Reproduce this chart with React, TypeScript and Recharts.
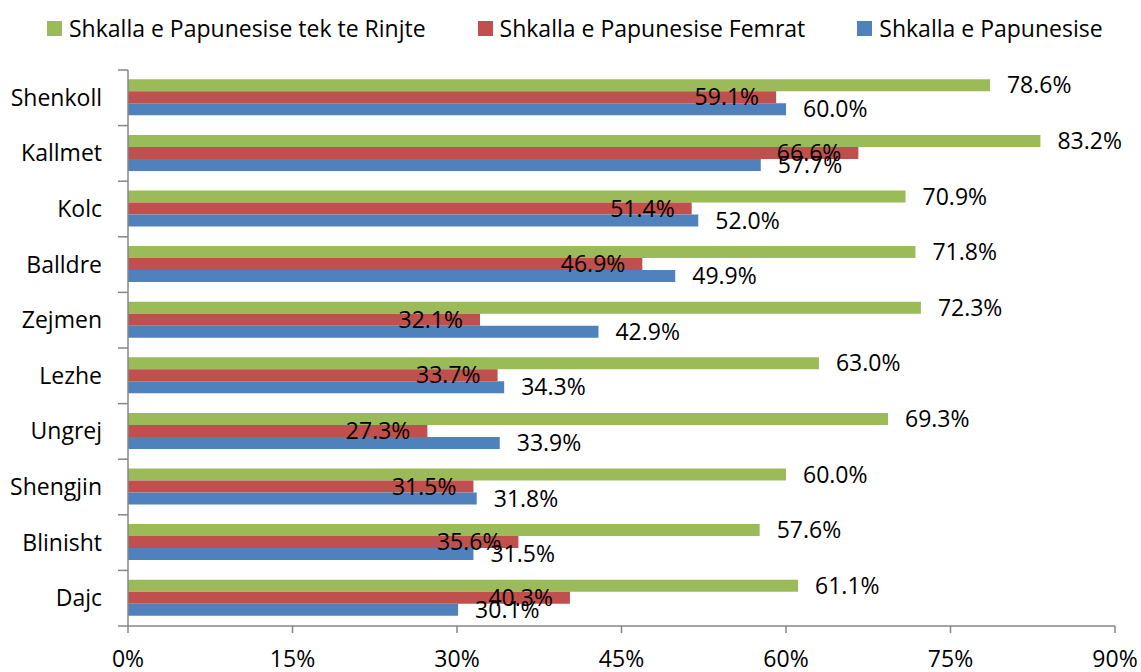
import React from "react";
import { BarChart, Bar, XAxis, YAxis, LabelList } from "recharts";

const CATEGORIES = [
  "Shenkoll",
  "Kallmet",
  "Kolc",
  "Balldre",
  "Zejmen",
  "Lezhe",
  "Ungrej",
  "Shengjin",
  "Blinisht",
  "Dajc",
];

const RINJTE = [78.6, 83.2, 70.9, 71.8, 72.3, 63.0, 69.3, 60.0, 57.6, 61.1];
const FEMRAT = [59.1, 66.6, 51.4, 46.9, 32.1, 33.7, 27.3, 31.5, 35.6, 40.3];
const TOTAL = [60.0, 57.7, 52.0, 49.9, 42.9, 34.3, 33.9, 31.8, 31.5, 30.1];

const X_TICKS = [0, 15, 30, 45, 60, 75, 90];

const SERIES = [
  { key: "rinjte", name: "Shkalla e Papunesise tek te Rinjte", color: "#9BBB59", labelPos: "right" },
  { key: "femrat", name: "Shkalla e Papunesise Femrat", color: "#C0504D", labelPos: "insideRight" },
  { key: "total", name: "Shkalla e Papunesise", color: "#4F81BD", labelPos: "right" },
];

const chartData = CATEGORIES.map((name, i) => ({
  name,
  rinjte: RINJTE[i],
  femrat: FEMRAT[i],
  total: TOTAL[i],
}));

const FONT = "'Open Sans', sans-serif";
const FONT_SIZE = 23;
const AXIS_COLOR = "#868686";
const Y_TICK_SIZE = 10;
const Y_TICK_MARGIN = 16;

const fmt = (v: any) => `${Number(v).toFixed(1)}%`;

// category ticks: Excel draws the tick marks between categories
function CategoryTick(props: any) {
  const { x, y, payload, index } = props;
  const half = payload?.offset ? payload.offset : 27.8;
  const axisX = x + Y_TICK_MARGIN + Y_TICK_SIZE;
  const isLast = index === CATEGORIES.length - 1;
  return (
    <g>
      <line x1={axisX - Y_TICK_SIZE} x2={axisX} y1={y - half} y2={y - half} stroke={AXIS_COLOR} strokeWidth={1.5} />
      {isLast && (
        <line x1={axisX - Y_TICK_SIZE} x2={axisX} y1={y + half} y2={y + half} stroke={AXIS_COLOR} strokeWidth={1.5} />
      )}
      <text x={x} y={y} dy="0.35em" textAnchor="end" fill="#000" fontSize={FONT_SIZE} fontFamily={FONT}>
        {payload.value}
      </text>
    </g>
  );
}

export default function App() {
  return (
    <div style={{ position: "absolute", left: 0, top: 0, width: 1141, height: 672, background: "#fff", fontFamily: FONT }}>
      <div
        style={{
          position: "absolute",
          left: 47,
          top: 13,
          display: "flex",
          alignItems: "center",
          fontSize: FONT_SIZE,
          lineHeight: "30px",
          whiteSpace: "nowrap",
        }}
      >
        {SERIES.map((s, i) => (
          <div key={s.key} style={{ display: "flex", alignItems: "center", marginLeft: i === 0 ? 0 : 52 }}>
            <span style={{ width: 15, height: 15, background: s.color, marginRight: 7, display: "inline-block" }} />
            <span>{s.name}</span>
          </div>
        ))}
      </div>
      <BarChart
        width={1141}
        height={672}
        data={chartData}
        layout="vertical"
        margin={{ top: 70, right: 26, bottom: 0, left: 0 }}
        barCategoryGap={9.3}
        barGap={0}
      >
        <XAxis
          type="number"
          domain={[0, 90]}
          ticks={X_TICKS}
          tickFormatter={(v: number) => `${v}%`}
          height={46}
          tickSize={7}
          tickMargin={18}
          axisLine={{ stroke: AXIS_COLOR, strokeWidth: 1.5 }}
          tickLine={{ stroke: AXIS_COLOR, strokeWidth: 1.5 }}
          tick={{ fill: "#000", fontSize: FONT_SIZE, fontFamily: FONT }}
          interval={0}
        />
        <YAxis
          type="category"
          dataKey="name"
          width={128}
          tickSize={Y_TICK_SIZE}
          tickMargin={Y_TICK_MARGIN}
          tickLine={false}
          axisLine={{ stroke: AXIS_COLOR, strokeWidth: 1.5 }}
          tick={<CategoryTick />}
          interval={0}
        />
        {SERIES.map((s) => (
          <Bar key={s.key} dataKey={s.key} name={s.name} fill={s.color} isAnimationActive={false}>
            <LabelList
              dataKey={s.key}
              position={s.labelPos as any}
              offset={17}
              formatter={fmt}
              fill="#000"
              fontSize={FONT_SIZE}
              fontFamily={FONT}
            />
          </Bar>
        ))}
      </BarChart>
    </div>
  );
}
